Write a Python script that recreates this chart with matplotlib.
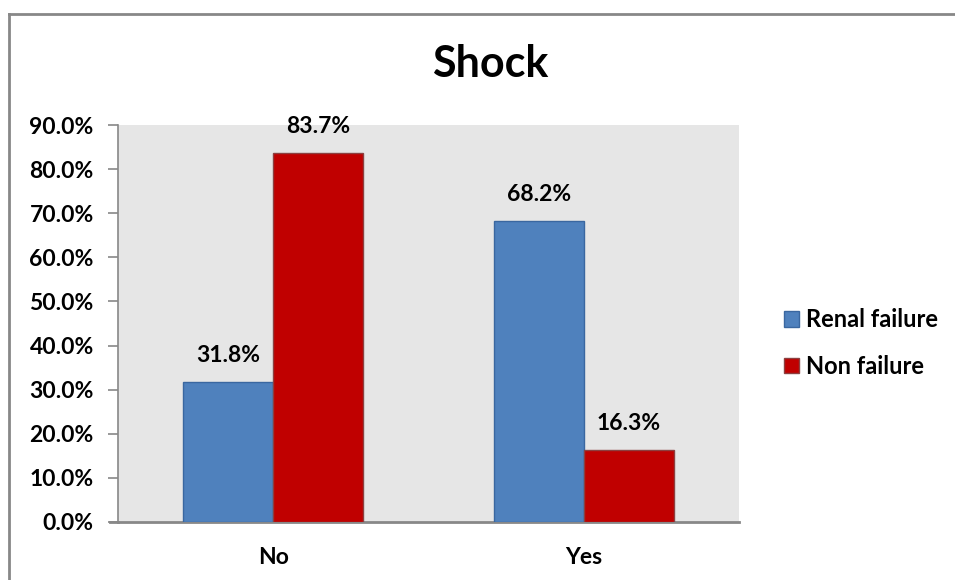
import matplotlib
matplotlib.use("Agg")
import matplotlib.pyplot as plt
from matplotlib.lines import Line2D
import numpy as np

categories = ["No", "Yes"]
renal_failure = [31.8, 68.2]
non_failure = [83.7, 16.3]
series_names = ["Renal failure", "Non failure"]
yticks = [0, 10, 20, 30, 40, 50, 60, 70, 80, 90]
title = "Shock"

plt.rcParams['font.family'] = ['Lato', 'DejaVu Sans']
plt.rcParams['font.weight'] = 'bold'

FS = 16.5

W, H = 955, 580
fig = plt.figure(figsize=(W / 100, H / 100), dpi=100)
fig.patch.set_facecolor("white")

left, right, top, bottom = 118, 739, 125, 522
ax = fig.add_axes([left / W, 1 - bottom / H, (right - left) / W, (bottom - top) / H])
ax.set_facecolor("#e6e6e6")

x = np.arange(len(categories))
w = 0.29
b1 = ax.bar(x - w / 2, renal_failure, w, color="#4f81bd", edgecolor="#3a67a0", linewidth=1.0,
            label=series_names[0], zorder=3)
b2 = ax.bar(x + w / 2, non_failure, w, color="#c00000", edgecolor="#8c4040", linewidth=1.0,
            label=series_names[1], zorder=3)

for bars, vals in ((b1, renal_failure), (b2, non_failure)):
    for bar, v in zip(bars, vals):
        ax.annotate(f"{v:.1f}%", (bar.get_x() + bar.get_width() / 2, v),
                    xytext=(0, 11.5), textcoords="offset points",
                    ha="center", va="bottom", fontsize=FS, fontweight="bold", color="black")

ax.set_xlim(-0.5, 1.5)
ax.set_ylim(0, 90)
ax.set_yticks(yticks)
ax.set_yticklabels([f"{t:.1f}%" for t in yticks])
ax.set_xticks(x)
ax.set_xticklabels(categories)
ax.tick_params(axis="y", length=7, width=1.2, color="#888888", labelsize=FS, pad=10.5)
ax.tick_params(axis="x", length=0, labelsize=FS, pad=18)
for lab in ax.get_xticklabels() + ax.get_yticklabels():
    lab.set_fontweight("bold")

for s in ["top", "right"]:
    ax.spines[s].set_visible(False)
ax.spines["left"].set_color("#888888")
ax.spines["left"].set_linewidth(1.2)
ax.spines["bottom"].set_color("#888888")
ax.spines["bottom"].set_linewidth(2)

fig.add_artist(Line2D([110 / W, left / W], [1 - bottom / H, 1 - bottom / H],
                      color="#888888", linewidth=2))

fig.text(490 / W, 1 - 64 / H, title, ha="center", va="center",
         fontsize=31, fontweight="bold", color="black")

leg = ax.legend(loc="center left", bbox_to_anchor=(772 / W, 1 - 343 / H),
                bbox_transform=fig.transFigure, frameon=False,
                prop={"size": 17, "weight": "bold"}, handlelength=0.65, handleheight=0.65,
                handletextpad=0.3, labelspacing=1.0, borderpad=0)

fig.add_artist(Line2D([9 / W, 9 / W], [0, 1 - 14 / H], color="#888888", linewidth=2))
fig.add_artist(Line2D([9 / W, 1], [1 - 14 / H, 1 - 14 / H], color="#888888", linewidth=2))

fig.savefig("out.png", dpi=100, facecolor="white")
